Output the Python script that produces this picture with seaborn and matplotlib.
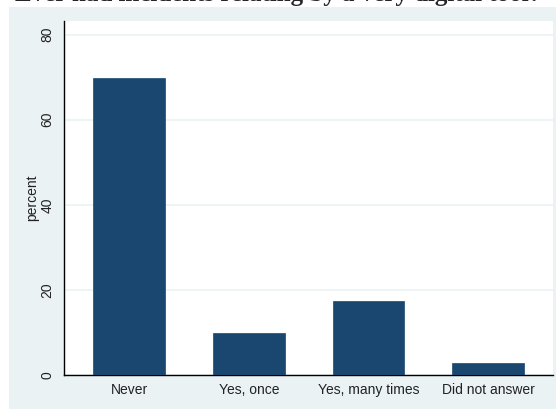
import matplotlib
matplotlib.use("Agg")
import matplotlib.pyplot as plt
import seaborn as sns
import pandas as pd

categories = ["Never", "Yes, once", "Yes, many times", "Did not answer"]
percent = [69.7, 9.9, 17.4, 2.8]
yticks = [0, 20, 40, 60, 80]
title_text = "Ever had incidents relating by a very digital tool?"

df = pd.DataFrame({"answer": categories, "percent": percent})

sns.set_theme(style="white")
plt.rcParams["font.family"] = ["Liberation Sans", "DejaVu Sans"]

BG = "#eaf2f3"
BAR = "#1a476f"
W, H = 556, 409
fig = plt.figure(figsize=(W / 100, H / 100), dpi=100, facecolor="white")

# outer light background panel
bgax = fig.add_axes([9 / W, 0, 1 - 9 / W, 1 - 7 / H])
bgax.set_facecolor(BG)
bgax.set_xticks([]); bgax.set_yticks([])
for s in bgax.spines.values():
    s.set_visible(False)
bgax.set_zorder(0)

ax = fig.add_axes([64 / W, (H - 375) / H, (553 - 64) / W, (375 - 21) / H])
ax.set_zorder(1)
ax.set_facecolor("white")
sns.barplot(data=df, x="answer", y="percent", color=BAR, saturation=1,
            width=0.6, ax=ax, zorder=3)
for p in ax.patches:
    p.set_edgecolor(BAR)
    p.set_linewidth(0.5)

ax.set_xlim(-0.543, 3.54)
ax.set_ylim(0, 83.2)
ax.set_yticks(yticks)
ax.set_yticklabels([str(t) for t in yticks], rotation=90, va="center", fontsize=10)
ax.tick_params(axis="x", length=0, pad=6, labelsize=10, colors="#222222")
ax.tick_params(axis="y", length=4, width=1, color="#555555", pad=3, labelcolor="#222222")
ax.yaxis.grid(True, color=BG, linewidth=1.2, zorder=0)
ax.set_axisbelow(True)
ax.set_xlabel("")
ax.set_ylabel("percent", fontsize=10, color="#222222", labelpad=1)

for side in ["top", "right"]:
    ax.spines[side].set_visible(False)
ax.spines["left"].set_color("black")
ax.spines["bottom"].set_color("black")
ax.spines["left"].set_linewidth(1)
ax.spines["bottom"].set_linewidth(1)

fig.text(0.5, 1 - 0.8 / H, title_text, ha="center", va="baseline",
         fontsize=18, fontweight="bold", family=["Liberation Serif", "DejaVu Serif"])

fig.savefig("out.png", dpi=100, facecolor="white")
